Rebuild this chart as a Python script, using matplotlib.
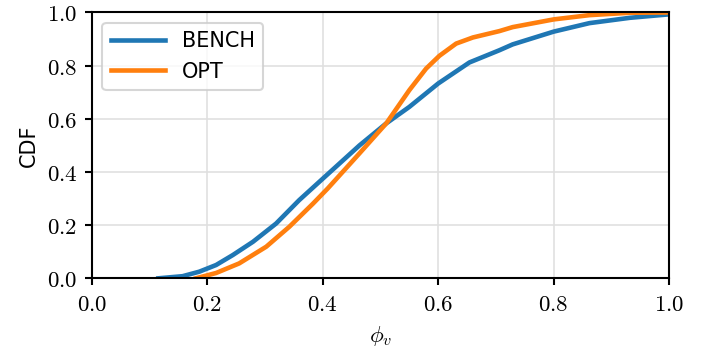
import matplotlib
matplotlib.use("Agg")
import matplotlib.pyplot as plt

plt.rcParams['mathtext.fontset'] = 'cm'
plt.rcParams['font.family'] = 'DejaVu Sans'
plt.rcParams['font.size'] = 10

# curvas (phi_v, CDF)
bench_x = [0.115, 0.157, 0.186, 0.215, 0.244, 0.279, 0.319, 0.359, 0.40, 0.4635,
           0.51, 0.55, 0.60, 0.654, 0.706, 0.729, 0.80, 0.862, 0.932, 1.0]
bench_y = [0.0, 0.008, 0.025, 0.05, 0.0875, 0.1375, 0.206, 0.294, 0.375, 0.50,
           0.583, 0.645, 0.733, 0.812, 0.858, 0.88, 0.928, 0.96, 0.98, 0.993]

opt_x = [0.18, 0.215, 0.255, 0.302, 0.342, 0.383, 0.4085, 0.4635, 0.51, 0.55,
         0.579, 0.602, 0.631, 0.66, 0.706, 0.729, 0.80, 0.862, 0.932, 1.0]
opt_y = [0.0, 0.02, 0.056, 0.119, 0.194, 0.281, 0.338, 0.47, 0.583, 0.708,
         0.789, 0.837, 0.883, 0.906, 0.93, 0.945, 0.974, 0.99, 0.999, 1.0]

ticks = [0.0, 0.2, 0.4, 0.6, 0.8, 1.0]
tick_labels = ["$0.0$", "$0.2$", "$0.4$", "$0.6$", "$0.8$", "$1.0$"]

fig = plt.figure(figsize=(711/150, 354/150), dpi=150)
ax = fig.add_axes([0.1294, 0.2138, 0.8116, 0.7509])

ax.plot(bench_x, bench_y, color="#1f77b4", lw=2.2, label="BENCH")
ax.plot(opt_x, opt_y, color="#ff7f0e", lw=2.2, label="OPT")

ax.set_xlim(0, 1)
ax.set_ylim(0, 1)
ax.set_xticks(ticks)
ax.set_xticklabels(tick_labels)
ax.set_yticks(ticks)
ax.set_yticklabels(tick_labels)
ax.tick_params(labelsize=11, width=1)
for s in ax.spines.values():
    s.set_linewidth(1)
ax.grid(True, color="#e0e0e0", lw=0.8)
ax.set_axisbelow(True)

ax.set_xlabel(r"$\phi_v$", fontsize=11)
ax.set_ylabel("CDF")
ax.legend(loc="upper left", handlelength=2.6)

fig.savefig("out.png", dpi=150)
